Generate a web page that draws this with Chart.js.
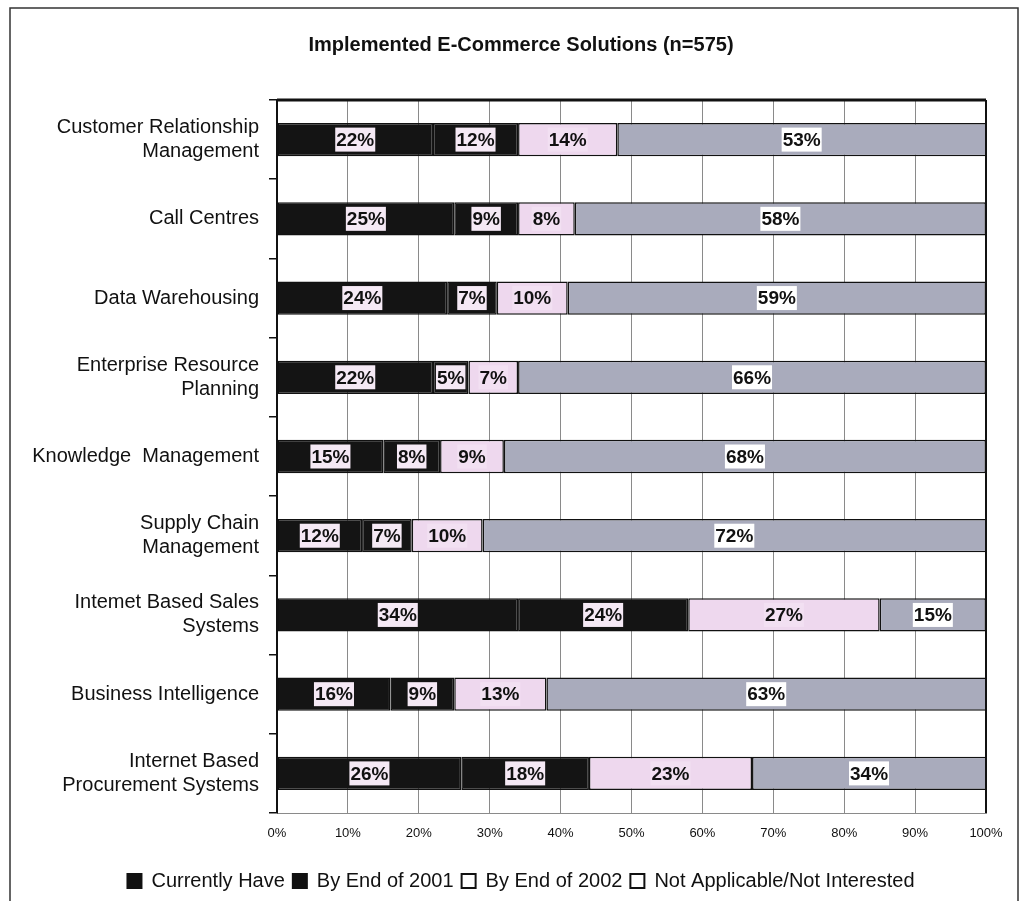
<!DOCTYPE html>
<html>
<head>
<meta charset="utf-8">
<script src="https://cdn.jsdelivr.net/npm/chart.js@4.4.1/dist/chart.umd.min.js"></script>
<style>
  html, body { margin: 0; padding: 0; background: #fff; }
  #wrap { width: 1030px; height: 901px; }
</style>
</head>
<body>
<div id="wrap"><canvas id="solutionsChart" width="1030" height="901"></canvas></div>
<script>
const categories = [
  ['Customer Relationship', 'Management'],
  'Call Centres',
  'Data Warehousing',
  ['Enterprise Resource', 'Planning'],
  'Knowledge  Management',
  ['Supply Chain', 'Management'],
  ['Intemet Based Sales', 'Systems'],
  'Business Intelligence',
  ['Internet Based', 'Procurement Systems']
];

const currentlyHave = [22, 25, 24, 22, 15, 12, 34, 16, 26];
const byEnd2001 = [12, 9, 7, 5, 8, 7, 24, 9, 18];
const byEnd2002 = [14, 8, 10, 7, 9, 10, 27, 13, 23];
const notApplicable = [53, 58, 59, 66, 68, 72, 15, 63, 34];

const seriesNames = ['Currently Have', 'By End of 2001', 'By End of 2002', 'Not Applicable/Not Interested'];
const seriesColors = ['#141414', '#141414', '#eed8ee', '#a9abbc'];
const labelBoxColors = ['#f5e9f5', '#f5e9f5', '#f2e0f2', '#ffffff'];

const FONT = "'Liberation Sans', Arial, sans-serif";

// white page + scanned frame lines
const framePlugin = {
  id: 'frame',
  afterLayout(chart) {
    // title and legend sit a bit right of the canvas centre in the original
    [chart.titleBlock, chart.legend].forEach((box) => {
      if (!box) return;
      box.left += 28;
      box.right += 28;
    });
  },
  beforeDraw(chart) {
    const ctx = chart.ctx;
    ctx.save();
    ctx.fillStyle = '#fff';
    ctx.fillRect(0, 0, chart.width, chart.height);
    ctx.strokeStyle = '#333';
    ctx.lineWidth = 1.5;
    ctx.beginPath();
    ctx.moveTo(10, 901);
    ctx.lineTo(10, 8);
    ctx.lineTo(1018, 8);
    ctx.lineTo(1018, 901);
    ctx.stroke();
    ctx.restore();
  },
  afterDraw(chart) {
    const { ctx, chartArea } = chart;
    ctx.save();
    ctx.strokeStyle = '#111';
    ctx.lineWidth = 3;
    ctx.beginPath();
    ctx.moveTo(chartArea.left, chartArea.top);
    ctx.lineTo(chartArea.right, chartArea.top);
    ctx.stroke();
    ctx.lineWidth = 2;
    ctx.beginPath();
    ctx.moveTo(chartArea.right, chartArea.top);
    ctx.lineTo(chartArea.right, chartArea.bottom);
    ctx.stroke();
    ctx.restore();
  }
};

// percentage labels sitting in small boxes
const boxLabels = {
  id: 'boxLabels',
  afterDatasetsDraw(chart) {
    const ctx = chart.ctx;
    ctx.save();
    ctx.font = 'bold 19px ' + FONT;
    ctx.textAlign = 'center';
    ctx.textBaseline = 'middle';
    chart.data.datasets.forEach((ds, di) => {
      const meta = chart.getDatasetMeta(di);
      meta.data.forEach((bar, i) => {
        const right = Math.min(bar.x, chart.chartArea.right);
        const cx = (right + bar.base) / 2;
        const text = ds.data[i] + '%';
        const w = ctx.measureText(text).width + 2;
        const h = 24;
        ctx.fillStyle = labelBoxColors[di];
        ctx.fillRect(cx - w / 2, bar.y - h / 2, w, h);
        ctx.fillStyle = '#111';
        ctx.fillText(text, cx, bar.y + 1);
      });
    });
    ctx.restore();
  }
};

const seriesData = [currentlyHave, byEnd2001, byEnd2002, notApplicable];

new Chart(document.getElementById('solutionsChart'), {
  type: 'bar',
  data: {
    labels: categories,
    datasets: seriesData.map((data, i) => ({
      label: seriesNames[i],
      data,
      backgroundColor: seriesColors[i],
      borderColor: '#111',
      borderWidth: 1.5,
      borderSkipped: false,
      barPercentage: 0.42,
      categoryPercentage: 1
    }))
  },
  options: {
    indexAxis: 'y',
    responsive: false,
    animation: false,
    layout: { padding: { left: 0, right: 44, top: 0, bottom: 0 } },
    scales: {
      x: {
        stacked: true,
        min: 0,
        max: 100,
        ticks: {
          stepSize: 10,
          callback: (v) => v + '%',
          color: '#111',
          font: { family: FONT, size: 13 },
          padding: 13
        },
        grid: { color: '#8a8a8a', lineWidth: 1, drawTicks: false },
        border: { display: true, color: '#8a8a8a' },
        afterFit: (scale) => { scale.height = 50; }
      },
      y: {
        stacked: true,
        ticks: {
          color: '#111',
          font: { family: FONT, size: 20 },
          padding: 10
        },
        grid: { drawOnChartArea: false, drawTicks: true, tickLength: 8, color: '#111', lineWidth: 1.5 },
        border: { display: true, color: '#111', width: 2 },
        afterFit: (scale) => { scale.width = 277; }
      }
    },
    plugins: {
      title: {
        display: true,
        text: 'Implemented E-Commerce Solutions (n=575)',
        color: '#111',
        font: { family: FONT, size: 20, weight: 'bold' },
        padding: { top: 33, bottom: 43 }
      },
      legend: {
        position: 'bottom',
        labels: {
          color: '#111',
          font: { family: FONT, size: 20 },
          boxWidth: 14,
          boxHeight: 14,
          padding: 8,
          generateLabels: (chart) => chart.data.datasets.map((ds, i) => ({
            text: ds.label,
            fillStyle: i < 2 ? '#111' : '#fff',
            strokeStyle: '#111',
            lineWidth: 2,
            datasetIndex: i,
            fontColor: '#111'
          }))
        }
      },
      tooltip: { enabled: false }
    }
  },
  plugins: [framePlugin, boxLabels]
});
</script>
</body>
</html>
